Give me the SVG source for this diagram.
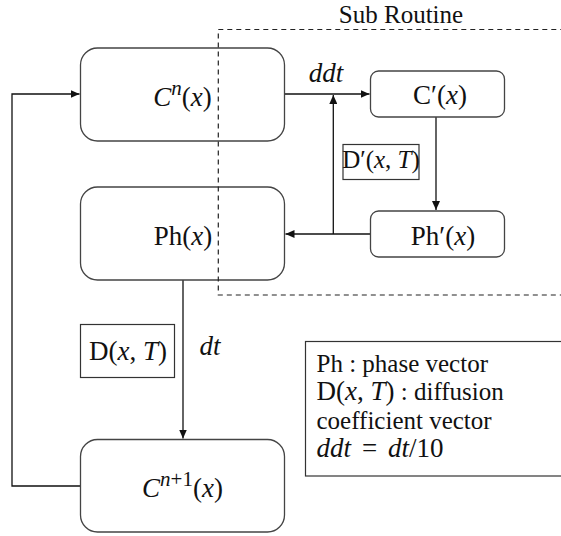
<svg xmlns="http://www.w3.org/2000/svg" width="561" height="536" viewBox="0 0 561 536">
<style>
.box{fill:none;stroke:#444;stroke-width:1.3}
.sq{fill:#fff;stroke:#333;stroke-width:1.2}
.ln{fill:none;stroke:#111;stroke-width:1.3}
.dash{fill:none;stroke:#222;stroke-width:1.2;stroke-dasharray:5 4}
.t{font-family:"Liberation Serif","Times New Roman",serif;font-size:25px;fill:#111}
.m{font-family:"Liberation Serif","Times New Roman",serif;font-size:27px;fill:#111}
.i{font-style:italic}
</style>
<defs>
<marker id="ah" markerWidth="10" markerHeight="8" refX="9" refY="4" orient="auto" markerUnits="userSpaceOnUse">
<path d="M0,0 L9,4 L0,8 Z" fill="#111"/>
</marker>
</defs>
<text class="t" x="401" y="23" text-anchor="middle">Sub Routine</text>
<g id="connectors">
<polyline class="ln" points="80.5,486 12,486 12,94 79.5,94" marker-end="url(#ah)"/>
<line class="ln" x1="284.5" y1="94" x2="369.5" y2="94" marker-end="url(#ah)"/>
<line class="ln" x1="333.3" y1="234" x2="333.3" y2="95" marker-end="url(#ah)"/>
<line class="ln" x1="436" y1="117" x2="436" y2="210" marker-end="url(#ah)"/>
<line class="ln" x1="370.5" y1="234" x2="285.5" y2="234" marker-end="url(#ah)"/>
<line class="ln" x1="183" y1="280" x2="183" y2="438.5" marker-end="url(#ah)"/>
<text class="m i" x="326" y="82" text-anchor="middle">ddt</text>
<text class="m i" x="210" y="355" text-anchor="middle">dt</text>
</g>
<g id="cn">
<rect class="box" x="80.5" y="48" width="204" height="93" rx="17"/>
<text class="m" x="182.5" y="106" text-anchor="middle" font-size="29"><tspan class="i">C</tspan><tspan class="i" font-size="21" dy="-11">n</tspan><tspan dy="11">(</tspan><tspan class="i">x</tspan>)</text>
</g>
<g id="cprime">
<rect class="box" x="370.5" y="71" width="134" height="46" rx="8"/>
<text class="m" x="440" y="104" text-anchor="middle">C′(<tspan class="i">x</tspan>)</text>
</g>
<g id="dprime">
<rect class="sq" x="343" y="144.5" width="76" height="35"/>
<text class="t" x="381" y="168" text-anchor="middle" font-size="21">D′(<tspan class="i">x</tspan>, <tspan class="i">T</tspan>)</text>
</g>
<g id="ph">
<rect class="box" x="80.5" y="187" width="204" height="93" rx="17"/>
<text class="m" x="183" y="245" text-anchor="middle" font-size="28">Ph(<tspan class="i">x</tspan>)</text>
</g>
<g id="phprime">
<rect class="box" x="370.5" y="211" width="134" height="46" rx="8"/>
<text class="m" x="443" y="245" text-anchor="middle" font-size="28">Ph′(<tspan class="i">x</tspan>)</text>
</g>
<g id="dbox">
<rect class="sq" x="80.5" y="324.5" width="94" height="53"/>
<text class="m" x="128" y="360" text-anchor="middle">D(<tspan class="i">x</tspan>, <tspan class="i">T</tspan>)</text>
</g>
<g id="cn1">
<rect class="box" x="80.5" y="439.5" width="204" height="92.5" rx="17"/>
<text class="m" x="182.5" y="497" text-anchor="middle" font-size="29"><tspan class="i">C</tspan><tspan class="i" font-size="21" dy="-11">n</tspan><tspan font-size="21">+1</tspan><tspan dy="11">(</tspan><tspan class="i">x</tspan>)</text>
</g>
<rect class="dash" x="218.3" y="29.5" width="360" height="265.5"/>
<g id="legend">
<rect class="sq" x="305.5" y="341.5" width="300" height="134.5"/>
<text class="t" x="316.5" y="371.5">Ph : phase vector</text>
<text class="t" x="316.5" y="400"><tspan font-size="27">D(<tspan class="i">x</tspan>, <tspan class="i">T</tspan>)</tspan> : diffusion</text>
<text class="t" x="316.5" y="428.5">coefficient vector</text>
<text class="m" y="457"><tspan class="i" x="316.5">ddt</tspan><tspan x="362">=</tspan><tspan class="i" x="388">dt</tspan>/10</text>
</g>
</svg>
